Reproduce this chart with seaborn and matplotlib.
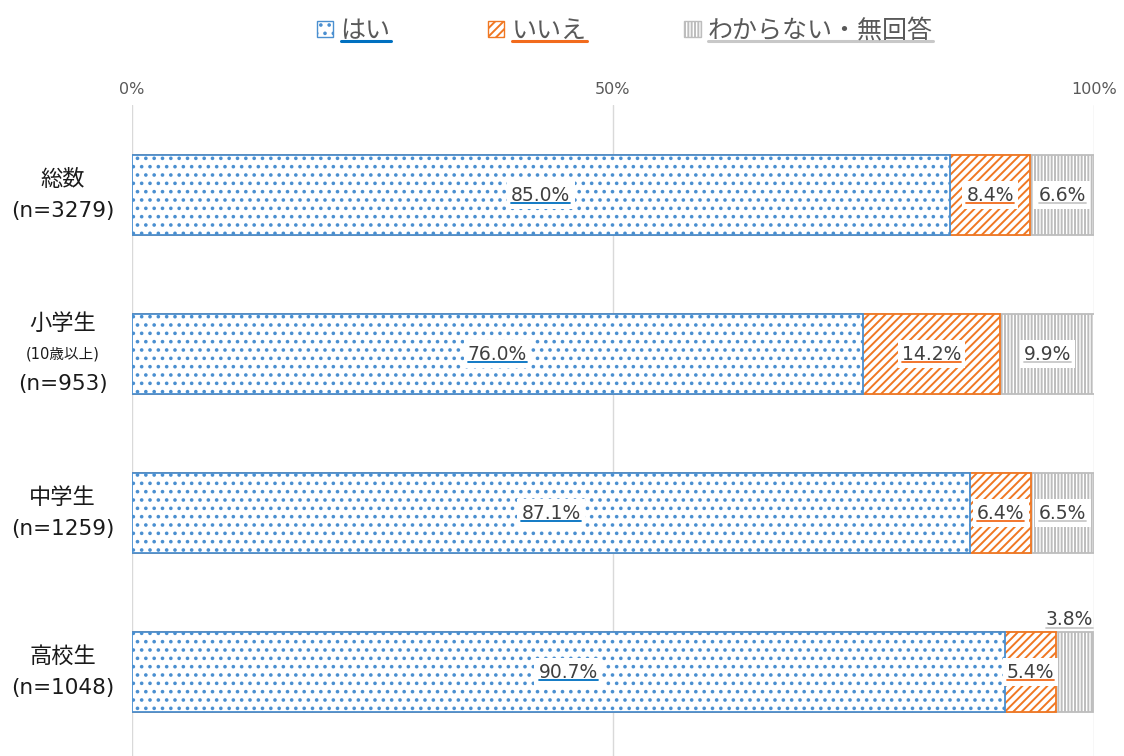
import numpy as np
import pandas as pd
import seaborn as sns
import matplotlib.pyplot as plt
from matplotlib.patches import Patch
from matplotlib.lines import Line2D
from matplotlib.transforms import blended_transform_factory

# data
groups = ['総数', '小学生', '中学生', '高校生']
group_n = ['(n=3279)', '(n=953)', '(n=1259)', '(n=1048)']
group_note = ['(10歳以上)' if g == '小学生' else '' for g in groups]
series = ['はい', 'いいえ', 'わからない・無回答']
yes = [85.0, 76.0, 87.1, 90.7]
no = [8.4, 14.2, 6.4, 5.4]
unknown = [6.6, 9.9, 6.5, 3.8]
tick_vals = [0, 50, 100]
tick_labels = ['0%', '50%', '100%']

edge_colors = ['#4a8fd0', '#f07722', '#bdbdbd']
line_colors = ['#0070c0', '#f26b1d', '#c8c8c8']
hatches = ['..', '////', '|||||']

sns.set_theme(style='white')
plt.rcParams['font.family'] = ['DejaVu Sans', 'Noto Sans CJK JP']
plt.rcParams['hatch.linewidth'] = 1.4

values = np.array([yes, no, unknown])
starts = np.vstack([np.zeros(len(groups)), np.cumsum(values, axis=0)[:-1]])
ends = np.cumsum(values, axis=0)

fig = plt.figure(figsize=(11.24, 7.56), dpi=100)
ax = fig.add_axes([0.1174, 0.0, 0.8559, 0.861])

# stacked bars drawn as overlaid cumulative totals, back to front
for k in reversed(range(len(series))):
    df = pd.DataFrame({'group': groups, 'end': ends[k]})
    sns.barplot(data=df, x='end', y='group', orient='h', color='white',
                edgecolor=edge_colors[k], hatch=hatches[k], linewidth=1.3,
                width=0.5, saturation=1, ax=ax)

ax.set_xlim(0, 100)
ax.set_ylim(3.528, -0.566)
ax.xaxis.tick_top()
ax.set_xticks(tick_vals, tick_labels)
ax.tick_params(axis='x', length=0, pad=6, labelsize=11.5, labelcolor='#595959')
ax.set_yticks([])
ax.set_xlabel('')
ax.set_ylabel('')
ax.grid(axis='x', color='#d9d9d9', linewidth=1)
ax.set_axisbelow(True)
for s in ax.spines.values():
    s.set_visible(False)

# percent labels
underlined = []
for k in range(len(series)):
    for i in range(len(groups)):
        v = values[k][i]
        if v < 4:
            t = ax.text(ends[k][i], i - 0.27, f'{v:.1f}%', ha='right', va='bottom',
                        fontsize=13.5, color='#404040')
        else:
            t = ax.text(starts[k][i] + v / 2, i, f'{v:.1f}%', ha='center', va='center',
                        fontsize=13.5, color='#404040',
                        bbox=dict(facecolor='white', edgecolor='none', pad=3))
        underlined.append((t, line_colors[k], 1.3))

# category labels
tr = blended_transform_factory(ax.transAxes, ax.transData)
lab = dict(transform=tr, ha='center', va='center', color='#1a1a1a')
lx = -0.072
for i in range(len(groups)):
    if group_note[i]:
        ax.text(lx, i - 0.19, groups[i], fontsize=16, **lab)
        ax.text(lx, i, group_note[i], fontsize=10.5, **lab)
        ax.text(lx, i + 0.19, group_n[i], fontsize=15.5, **lab)
    else:
        ax.text(lx, i - 0.095, groups[i], fontsize=16, **lab)
        ax.text(lx, i + 0.1, group_n[i], fontsize=15.5, **lab)

# legend
handles = [Patch(facecolor='white', edgecolor=edge_colors[k], hatch=hatches[k])
           for k in range(len(series))]
leg = fig.legend(handles, series, loc='upper center', bbox_to_anchor=(0.556, 1.005),
                 ncol=3, frameon=False, fontsize=18, handlelength=0.65, handleheight=0.65,
                 handletextpad=0.3, columnspacing=3.9, labelcolor='#595959')
for k, t in enumerate(leg.get_texts()):
    underlined.append((t, line_colors[k], 2.2))

# underline texts
fig.canvas.draw()
renderer = fig.canvas.get_renderer()
for t, c, lw in underlined:
    bb = t.get_window_extent(renderer)
    y = bb.y0 + 0.08 * bb.height
    fig.add_artist(Line2D([bb.x0, bb.x1], [y, y], transform=None, color=c, linewidth=lw))

fig.savefig('out.png', dpi=100)
